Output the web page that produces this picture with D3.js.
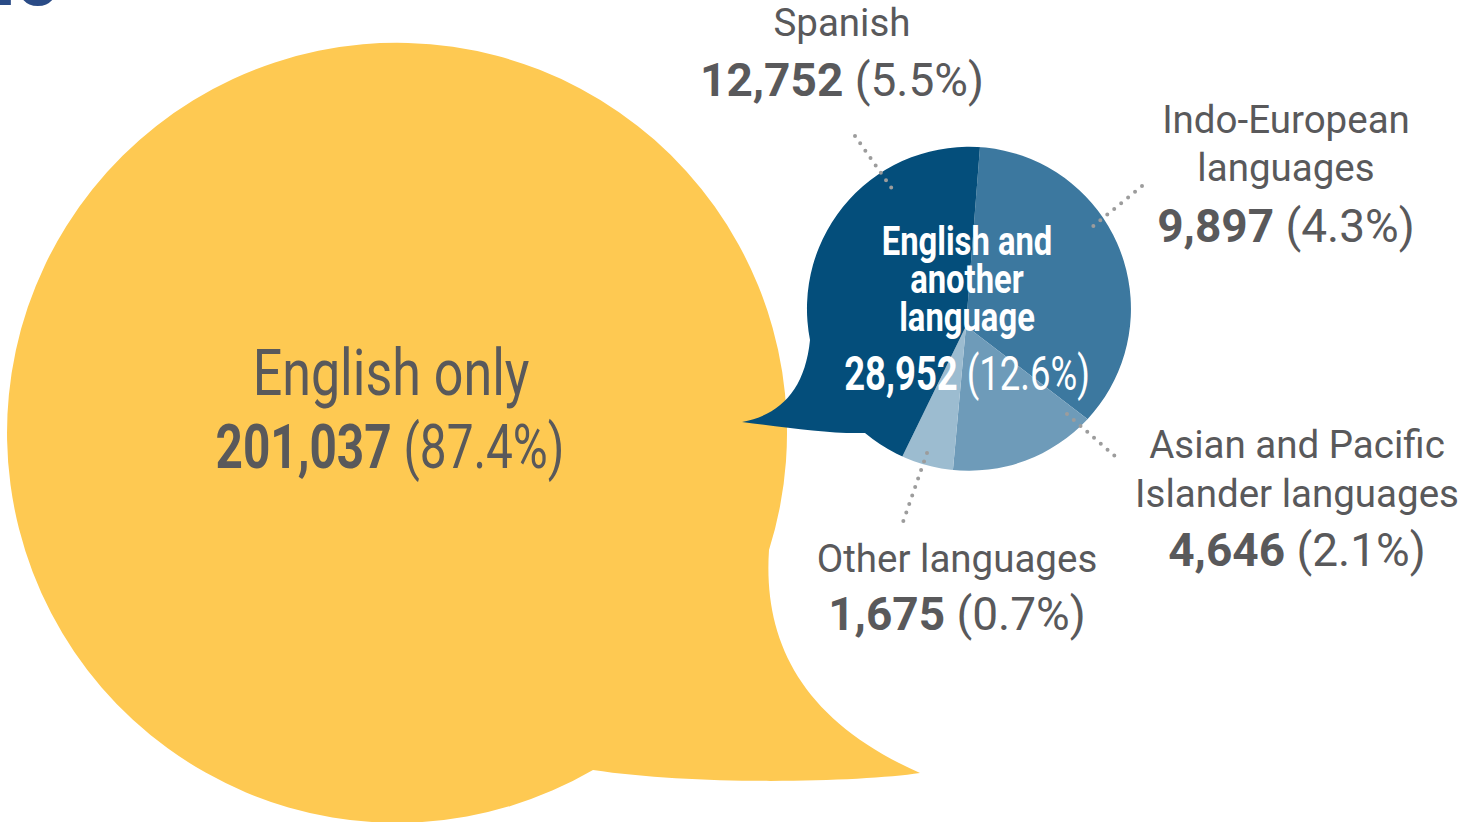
<!DOCTYPE html>
<html>
<head>
<meta charset="utf-8">
<script src="https://cdn.jsdelivr.net/npm/d3@7"></script>
<style>
  body{margin:0;background:#fff;}
  svg{display:block;font-family:Roboto,'Noto Sans',sans-serif;}
</style>
</head>
<body>
<svg id="chart" width="1466" height="822"></svg>
<script>
// overall split
var groups = ['English only', 'English and another language'];
var groupCounts = [201037, 28952];
var groupShares = [87.4, 12.6];

// breakdown of "English and another language"
var langs = ['Indo-European languages', 'Asian and Pacific Islander languages', 'Other languages', 'Spanish'];
var langCounts = [9897, 4646, 1675, 12752];
var langShares = [4.3, 2.1, 0.7, 5.5];
var langColors = ['#3c789f', '#6e9bb9', '#9cbcd0', '#044e7b'];

var fmt = d3.format(',');
var grey = '#59595b';

var svg = d3.select('#chart');

// cropped title glimpse at the very top
svg.append('text')
  .attr('x', -5).attr('y', 5)
  .style('font-size', '78px')
  .style('font-weight', 'bold')
  .style('fill', '#2a4b86')
  .text('lo');

// yellow bubble (English only)
svg.append('path')
  .attr('d', 'M769,550 C763,640 800,720 920,773 C860,782 700,786 593,770 A390,390 0 1 1 769,550 Z')
  .style('fill', '#fec952');

// blue bubble, filled with the language pie
var bubble = 'M810,340 C805,390 780,415 742,422 C790,428 830,434 865,433 A162,162 0 1 0 810,340 Z';
svg.append('clipPath').attr('id', 'bubbleClip')
  .append('path').attr('d', bubble);

var langData = langs.map(function(d, i){
  return {name: d, count: langCounts[i], share: langShares[i], color: langColors[i]};
});

var pie = d3.pie()
  .sort(null)
  .value(function(d){ return d.count; })
  .startAngle(0.078)
  .endAngle(0.078 + 2 * Math.PI);

var arc = d3.arc().innerRadius(0).outerRadius(280);

svg.append('g')
  .attr('clip-path', 'url(#bubbleClip)')
  .append('g')
  .attr('transform', 'translate(966,326)')
  .selectAll('path')
  .data(pie(langData))
  .enter()
  .append('path')
  .attr('d', arc)
  .style('fill', function(d){ return d.data.color; });

// dotted leaders
var leaders = [
  [[1142,186],[1091,228]],
  [[1067,414],[1117,458]],
  [[927,453],[903,522]],
  [[855,136],[895,193]]
];
svg.selectAll('.leader')
  .data(leaders)
  .enter()
  .append('path')
  .attr('class', 'leader')
  .attr('d', d3.line())
  .style('fill', 'none')
  .style('stroke', '#9c9c9c')
  .style('stroke-width', 4)
  .style('stroke-linecap', 'round')
  .style('stroke-dasharray', '0,9');

// label layout for the language breakdown
var labelLayout = [
  {lines: ['Indo-European', 'languages'], x: 1286, y: 133, gap: 48, numY: 242},
  {lines: ['Asian and Pacific', 'Islander languages'], x: 1297, y: 458, gap: 49, numY: 566},
  {lines: ['Other languages'], x: 957, y: 572, gap: 48, numY: 630},
  {lines: ['Spanish'], x: 842, y: 36, gap: 48, numY: 96}
];

function numberLine(sel, count, share){
  sel.append('tspan').style('font-weight', 'bold').text(fmt(count));
  sel.append('tspan').text(' (' + share + '%)');
}

langData.forEach(function(d, i){
  var lay = labelLayout[i];
  var g = svg.append('g')
    .attr('class', 'lang-label')
    .style('fill', grey)
    .attr('text-anchor', 'middle');
  lay.lines.forEach(function(line, j){
    g.append('text')
      .attr('x', lay.x).attr('y', lay.y + j * lay.gap)
      .style('font-size', '38.5px')
      .text(line);
  });
  g.append('text')
    .attr('x', lay.x).attr('y', lay.numY)
    .style('font-size', '46px')
    .call(numberLine, d.count, d.share);
});

// English only label (condensed)
svg.append('text')
  .attr('transform', 'translate(391,395) scale(0.8,1)')
  .attr('text-anchor', 'middle')
  .style('fill', grey)
  .style('font-size', '65px')
  .text(groups[0]);
svg.append('text')
  .attr('transform', 'translate(390,468) scale(0.77,1)')
  .attr('text-anchor', 'middle')
  .style('fill', grey)
  .style('font-size', '62px')
  .call(numberLine, groupCounts[0], groupShares[0]);

// English and another language label (condensed, white)
var ea = svg.append('g')
  .attr('transform', 'translate(967,0) scale(0.8,1)')
  .style('fill', '#fff')
  .attr('text-anchor', 'middle');
['English and', 'another', 'language'].forEach(function(line, j){
  ea.append('text')
    .attr('y', 255 + j * 38)
    .style('font-size', '41px')
    .style('font-weight', 'bold')
    .text(line);
});
svg.append('text')
  .attr('transform', 'translate(967,390) scale(0.76,1)')
  .attr('text-anchor', 'middle')
  .style('fill', '#fff')
  .style('font-size', '48px')
  .call(numberLine, groupCounts[1], groupShares[1]);
</script>
</body>
</html>
